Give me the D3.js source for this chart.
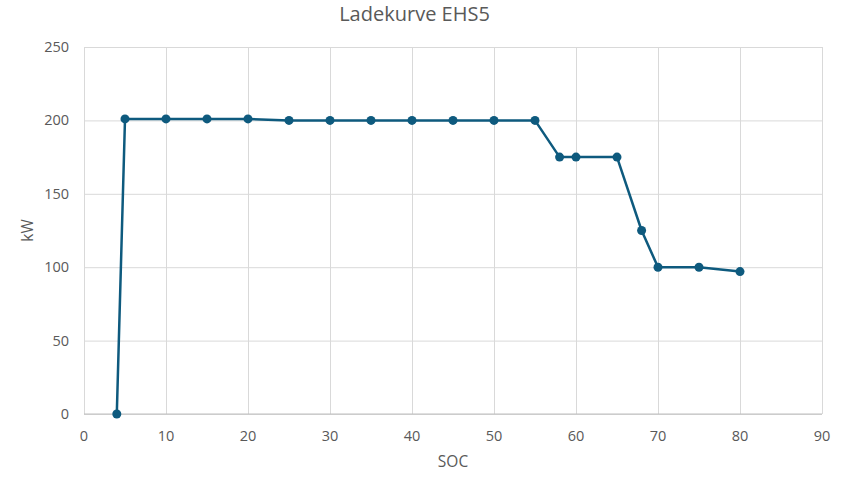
<!DOCTYPE html>
<html>
<head>
<meta charset="utf-8">
<script src="https://cdn.jsdelivr.net/npm/d3@7"></script>
<style>
  body { margin: 0; background: #fff; }
  text { font-family: "Open Sans", "Liberation Sans", sans-serif; fill: #595959; }
  .grid line { stroke: #d9d9d9; }
  .grid path { display: none; }
</style>
</head>
<body>
<svg id="chart" width="859" height="479"></svg>
<script>
// charging curve, SOC (%) vs power (kW)
const soc = [4, 5, 10, 15, 20, 25, 30, 35, 40, 45, 50, 55, 58, 60, 65, 68, 70, 75, 80];
const kw = [0, 201, 201, 201, 201, 200, 200, 200, 200, 200, 200, 200, 175, 175, 175, 125, 100, 100, 97];
const xTicks = [0, 10, 20, 30, 40, 50, 60, 70, 80, 90];
const yTicks = [0, 50, 100, 150, 200, 250];

const margin = {top: 47, right: 37, bottom: 65, left: 84};
const svg = d3.select('#chart');
const w = 859 - margin.left - margin.right;
const h = 479 - margin.top - margin.bottom;

const x = d3.scaleLinear().domain([0, 90]).range([0, w]);
const y = d3.scaleLinear().domain([0, 250]).range([h, 0]);

const g = svg.append('g')
  .attr('transform', `translate(${margin.left},${margin.top})`);

// gridlines
g.append('g')
  .attr('class', 'grid')
  .call(d3.axisLeft(y).tickValues(yTicks).tickSize(-w).tickFormat(''));
g.append('g')
  .attr('class', 'grid')
  .attr('transform', `translate(0,${h})`)
  .call(d3.axisBottom(x).tickValues(xTicks).tickSize(h).tickFormat(''))
  .selectAll('line').attr('transform', `translate(0,${-h})`);

// x axis baseline
g.append('line')
  .attr('x1', 0).attr('x2', w)
  .attr('y1', h).attr('y2', h)
  .attr('stroke', '#bfbfbf');

// tick labels
g.selectAll('.ylab')
  .data(yTicks)
  .enter()
  .append('text')
  .attr('class', 'ylab')
  .attr('x', -15)
  .attr('y', d => y(d))
  .attr('dy', '0.35em')
  .attr('text-anchor', 'end')
  .attr('font-size', 14.5)
  .text(d => d);

g.selectAll('.xlab')
  .data(xTicks)
  .enter()
  .append('text')
  .attr('class', 'xlab')
  .attr('x', d => x(d))
  .attr('y', h + 27)
  .attr('text-anchor', 'middle')
  .attr('font-size', 14.5)
  .text(d => d);

// line
const pts = soc.map((s, i) => [s, kw[i]]);
const line = d3.line()
  .x(d => x(d[0]))
  .y(d => y(d[1]));
g.append('path')
  .datum(pts)
  .attr('d', line)
  .attr('fill', 'none')
  .attr('stroke', '#0e5a7e')
  .attr('stroke-width', 2.5)
  .attr('stroke-linejoin', 'round');

g.selectAll('.dot')
  .data(pts)
  .enter()
  .append('circle')
  .attr('class', 'dot')
  .attr('cx', d => x(d[0]))
  .attr('cy', d => y(d[1]))
  .attr('r', 4.5)
  .attr('fill', '#0e5a7e');

// titles
svg.append('text')
  .attr('x', 859 / 2 - 15)
  .attr('y', 21)
  .attr('text-anchor', 'middle')
  .attr('font-size', 20)
  .text('Ladekurve EHS5');

svg.append('text')
  .attr('x', margin.left + w / 2)
  .attr('y', 467)
  .attr('text-anchor', 'middle')
  .attr('font-size', 15.5)
  .text('SOC');

svg.append('text')
  .attr('transform', `translate(33,${margin.top + h / 2}) rotate(-90)`)
  .attr('text-anchor', 'middle')
  .attr('font-size', 15.5)
  .text('kW');
</script>
</body>
</html>
